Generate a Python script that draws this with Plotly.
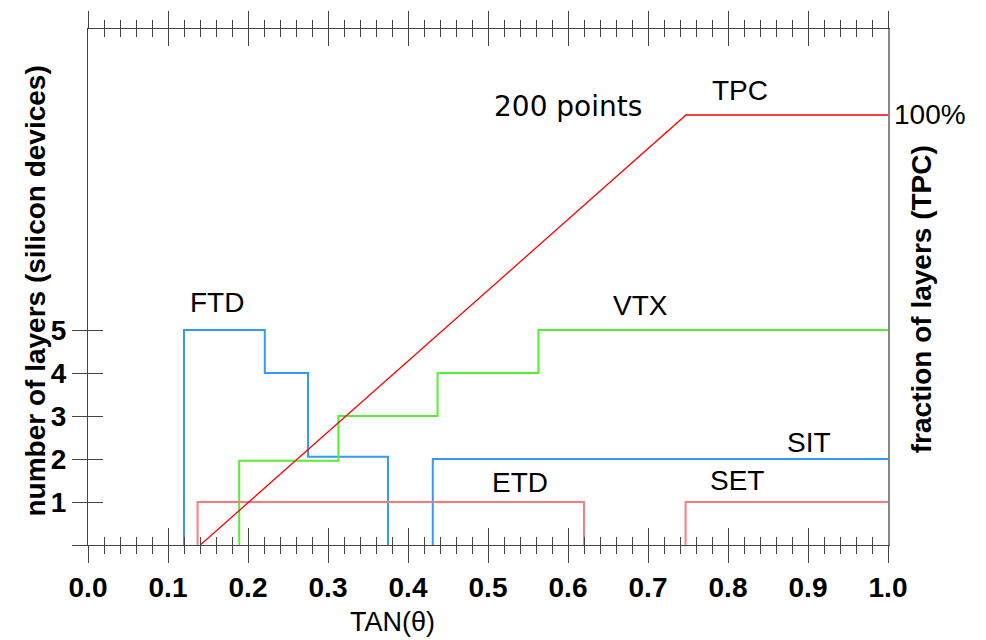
import plotly.graph_objects as go

# ---- data ----
x_ticks = [0.0, 0.1, 0.2, 0.3, 0.4, 0.5, 0.6, 0.7, 0.8, 0.9, 1.0]
x_tick_labels = ["0.0", "0.1", "0.2", "0.3", "0.4", "0.5", "0.6", "0.7", "0.8", "0.9", "1.0"]
y_ticks = [0, 1, 2, 3, 4, 5]
y_tick_labels = ["", "1", "2", "3", "4", "5"]

ftd_x = [0.12, 0.12, 0.221, 0.275, 0.375]
ftd_y = [0, 5, 4, 2.05, 0]
sit_x = [0.431, 0.431, 1.0]
sit_y = [0, 2, 2]
vtx_x = [0.189, 0.189, 0.313, 0.437, 0.563, 1.0]
vtx_y = [0, 1.96, 3, 4, 5, 5]
etd_x = [0.137, 0.137, 0.62]
etd_y = [0, 1, 0]
set_x = [0.747, 0.747, 1.0]
set_y = [0, 1, 1]
tpc_x = [0.1404, 0.7475, 1.0]
tpc_y = [0, 10, 10]   # 10 = 100 %

labels = ["FTD", "VTX", "SIT", "ETD", "SET", "TPC"]
label_x = [0.161, 0.69, 0.901, 0.54, 0.811, 0.815]
label_y = [5.65, 5.58, 2.38, 1.45, 1.5, 10.57]

BLUE = "#3399ff"
GREEN = "#55ee33"
PINK = "#ff7a7a"
RED = "#ff0000"
AX = "#444444"

fig = go.Figure()

def step(x, y, c, w=2):
    fig.add_trace(go.Scatter(x=x, y=y, mode="lines", line=dict(color=c, width=w, shape="hv"),
                             hoverinfo="skip", showlegend=False))

step(ftd_x, ftd_y, BLUE)
step(sit_x, sit_y, BLUE)
step(vtx_x, vtx_y, GREEN)
step(etd_x, etd_y, PINK)
step(set_x, set_y, PINK)
fig.add_trace(go.Scatter(x=tpc_x, y=tpc_y, mode="lines", line=dict(color=RED, width=1.3),
                         hoverinfo="skip", showlegend=False))

# invisible traces to attach the extra (tick-only) axes
for xa, ya in [("x2", "y"), ("x3", "y"), ("x4", "y"), ("x", "y2"), ("x", "y3")]:
    fig.add_trace(go.Scatter(x=[None], y=[None], xaxis=xa, yaxis=ya, showlegend=False,
                             hoverinfo="skip"))

tickfont = dict(family="Liberation Sans, Arial, sans-serif", size=28, color="black", weight="bold")
minor_out = dict(ticks="outside", ticklen=8, dtick=0.02, tick0=0, tickcolor=AX, tickwidth=1.2)
minor_in = dict(ticks="inside", ticklen=8, dtick=0.02, tick0=0, tickcolor=AX, tickwidth=1.2)

common_x = dict(range=[0, 1], showgrid=False, zeroline=False, tickvals=x_ticks,
                tickcolor=AX, tickwidth=1.2, ticklen=17)

fig.update_layout(
    width=986, height=640, autosize=False,
    margin=dict(l=88, r=98, t=25, b=95),
    paper_bgcolor="white", plot_bgcolor="white",
    xaxis=dict(**common_x, ticks="outside", ticktext=x_tick_labels, tickfont=tickfont,
               showline=True, linecolor=AX, linewidth=1.2, minor=minor_out, anchor="y"),
    xaxis2=dict(**common_x, ticks="inside", showticklabels=False, overlaying="x",
                matches="x", minor=minor_in, anchor="y"),
    xaxis3=dict(**common_x, ticks="outside", showticklabels=False, overlaying="x", side="top",
                matches="x", showline=True, linecolor=AX, linewidth=1.2, minor=minor_out, anchor="y"),
    xaxis4=dict(**common_x, ticks="inside", showticklabels=False, overlaying="x", side="top",
                matches="x", minor=minor_in, anchor="y"),
    yaxis=dict(range=[0, 12], showgrid=False, zeroline=False, tickvals=y_ticks,
               ticktext=y_tick_labels, ticks="outside", ticklen=15, tickcolor=AX, tickwidth=1.2,
               tickfont=tickfont, showline=True, linecolor=AX, linewidth=1.2),
    yaxis2=dict(range=[0, 12], showgrid=False, zeroline=False, tickvals=y_ticks,
                ticks="inside", ticklen=15, tickcolor=AX, tickwidth=1.2, showticklabels=False,
                overlaying="y", matches="y"),
    yaxis3=dict(range=[0, 12], showgrid=False, zeroline=False, ticks="", showticklabels=False,
                overlaying="y", side="right", matches="y", showline=True, linecolor="#888888",
                linewidth=1.5),
)

lab_font = dict(family="Liberation Sans, Arial, sans-serif", size=28, color="black")
for t, lx, ly in zip(labels, label_x, label_y):
    fig.add_annotation(x=lx, y=ly, text=t, showarrow=False, font=lab_font,
                       xanchor="center", yanchor="middle")

fig.add_annotation(x=0.60, y=10.2, text="200 points", showarrow=False, xanchor="center",
                   yanchor="middle",
                   font=dict(family="Comic Sans MS, DejaVu Sans, sans-serif", size=28, color="black"))
fig.add_annotation(xref="paper", yref="paper", x=1.005, y=10 / 12, text="100%", showarrow=False,
                   xanchor="left", yanchor="middle", font=lab_font)

title_font = dict(family="Liberation Sans, Arial, sans-serif", size=28, color="black", weight="bold")
fig.add_annotation(xref="paper", yref="paper", x=-0.066, y=5.9 / 12,
                   text="number of layers (silicon devices)", textangle=-90, showarrow=False,
                   xanchor="center", yanchor="middle", font=title_font)
fig.add_annotation(xref="paper", yref="paper", x=1.0415, y=5.72 / 12,
                   text="fraction of layers (TPC)", textangle=-90, showarrow=False,
                   xanchor="center", yanchor="middle", font=title_font)
fig.add_annotation(xref="paper", yref="paper", x=0.381, y=-1.8 / 12, text="TAN(θ)",
                   showarrow=False, xanchor="center", yanchor="middle",
                   font=dict(family="Liberation Sans, Arial, sans-serif", size=27, color="black"))

fig.write_html("out.html")
